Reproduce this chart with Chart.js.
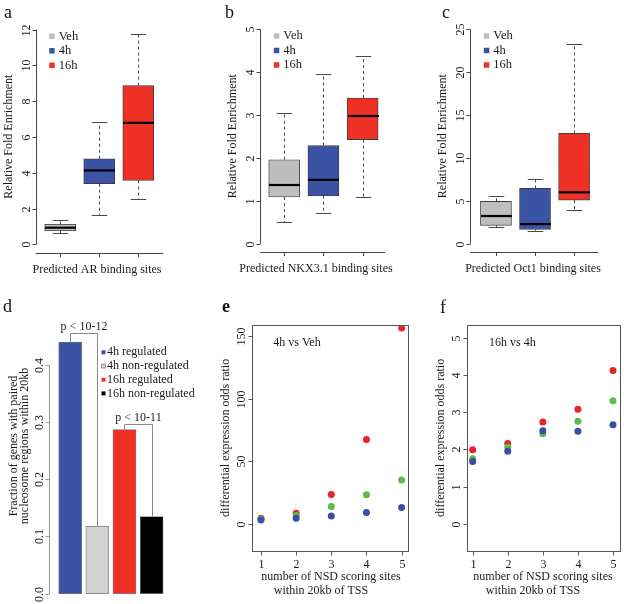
<!DOCTYPE html>
<html>
<head>
<meta charset="utf-8">
<script src="https://cdn.jsdelivr.net/npm/chart.js@4.4.1/dist/chart.umd.min.js"></script>
<style>
html,body{margin:0;padding:0;background:#fff;}
#wrap{position:relative;width:624px;height:604px;overflow:hidden;background:#fff;}
#wrap canvas{position:absolute;left:0;top:0;}
.pl{position:absolute;font-family:"Liberation Serif",serif;font-size:18px;line-height:18px;color:#111;}
</style>
</head>
<body>
<div id="wrap">
<canvas id="cA" width="624" height="604"></canvas>
<canvas id="cB" width="624" height="604"></canvas>
<canvas id="cC" width="624" height="604"></canvas>
<canvas id="cD" width="624" height="604"></canvas>
<canvas id="cE" width="624" height="604"></canvas>
<canvas id="cF" width="624" height="604"></canvas>
<div class="pl" style="left:4px;top:3px">a</div>
<div class="pl" style="left:225px;top:3px">b</div>
<div class="pl" style="left:442px;top:3px">c</div>
<div class="pl" style="left:3px;top:297px">d</div>
<div class="pl" style="left:222px;top:297px;font-weight:bold">e</div>
<div class="pl" style="left:440px;top:298px">f</div>
</div>
<script>
const W = 624, H = 604;
const SERIF = '"Liberation Serif", "Times New Roman", serif';
const INK = '#1a1a1a';

// ---------- panels a-c : box plots ----------
const boxGroups = ['Veh', '4h', '16h'];
const boxColors = ['#BEBEBE', '#3A53A4', '#EE3124'];

const arMin = [0.61, 1.62, 2.51];
const arQ1  = [0.76, 3.39, 3.57];
const arMed = [0.93, 4.13, 6.79];
const arQ3  = [1.12, 4.78, 8.87];
const arMax = [1.38, 6.81, 11.74];
const arTicks = [0, 2, 4, 6, 8, 10, 12];

const nkMin = [0.50, 0.71, 1.10];
const nkQ1  = [1.09, 1.12, 2.43];
const nkMed = [1.37, 1.49, 2.98];
const nkQ3  = [1.96, 2.29, 3.40];
const nkMax = [3.04, 3.97, 4.38];
const nkTicks = [0, 1, 2, 3, 4, 5];

const ocMin = [1.90, 1.52, 3.97];
const ocQ1  = [2.14, 1.67, 5.09];
const ocMed = [3.23, 2.29, 5.99];
const ocQ3  = [4.94, 6.45, 12.87];
const ocMax = [5.60, 7.58, 23.29];
const ocTicks = [0, 5, 10, 15, 20, 25];

// ---------- panel d : bars ----------
const nucCategories = ['4h regulated', '4h non-regulated', '16h regulated', '16h non-regulated'];
const nucFraction = [0.44, 0.118, 0.287, 0.135];
const nucColors = ['#3A53A4', '#D2D2D2', '#EE3124', '#000000'];
const nucPairs = [[0, 1], [2, 3]];
const nucPLabels = ['p < 10-12', 'p < 10-11'];
const nucTicks = [0.0, 0.1, 0.2, 0.3, 0.4];
const nucTickLabels = ['0.0', '0.1', '0.2', '0.3', '0.4'];

// ---------- panels e-f : scatter ----------
const nsdSites = [1, 2, 3, 4, 5];
const e4hRed   = [4.6, 8.6, 23.6, 67.6, 156.7];
const e4hGreen = [4.0, 6.7, 14.0, 23.3, 35.2];
const e4hBlue  = [3.2, 4.6, 6.4, 9.1, 13.2];
const f16Red   = [1.99, 2.16, 2.74, 3.08, 4.12];
const f16Green = [1.75, 2.06, 2.42, 2.76, 3.31];
const f16Blue  = [1.68, 1.95, 2.50, 2.49, 2.66];
const eTicks = [0, 50, 100, 150];
const fTicks = [0, 1, 2, 3, 4, 5];
const ptRed = '#E8232A', ptGreen = '#5DBA4C', ptBlue = '#3A4FA2';

// ---------- helpers ----------
function line(ctx, x1, y1, x2, y2) { ctx.beginPath(); ctx.moveTo(x1, y1); ctx.lineTo(x2, y2); ctx.stroke(); }
function px(v) { return Math.round(v) + 0.5; }
function vtext(ctx, s, x, y, size) {
  ctx.save(); ctx.translate(x, y); ctx.rotate(-Math.PI / 2);
  ctx.font = size + 'px ' + SERIF; ctx.fillStyle = INK;
  ctx.textAlign = 'center'; ctx.textBaseline = 'middle';
  ctx.fillText(s, 0, 0); ctx.restore();
}
function htext(ctx, s, x, y, size, align) {
  ctx.save(); ctx.font = size + 'px ' + SERIF; ctx.fillStyle = INK;
  ctx.textAlign = align || 'center'; ctx.textBaseline = 'middle';
  ctx.fillText(s, x, y); ctx.restore();
}
function leftAxis(chart, ticks, labels, color, labOff) {
  const ctx = chart.ctx, ys = chart.scales.y, x = px(chart.chartArea.left);
  ctx.save(); ctx.strokeStyle = color; ctx.lineWidth = 1;
  line(ctx, x, ys.getPixelForValue(ticks[0]), x, ys.getPixelForValue(ticks[ticks.length - 1]));
  ticks.forEach((t, i) => {
    const y = px(ys.getPixelForValue(t));
    line(ctx, x - 4, y, x, y);
    vtext(ctx, labels[i], x - labOff, y, 12);
  });
  ctx.restore();
}
function baseOptions(area, xr, yr) {
  return {
    responsive: false, maintainAspectRatio: false, animation: false, events: [],
    layout: { padding: { left: area[0], top: area[1], right: W - area[2], bottom: H - area[3] } },
    plugins: { legend: { display: false }, tooltip: { enabled: false }, title: { display: false } },
    scales: {
      x: { type: 'linear', display: false, offset: false, min: xr[0], max: xr[1] },
      y: { type: 'linear', display: false, min: yr[0], max: yr[1] }
    }
  };
}

// ---------- box plot panels ----------
const BOXW = 31;
function boxChart(id, st, ticks, area, xr, yr, xTitle, xTitleX) {
  new Chart(document.getElementById(id), {
    type: 'bar',
    data: { datasets: [{
      label: xTitle,
      data: boxGroups.map((g, i) => ({ x: i + 1, y: [st.q1[i], st.q3[i]] })),
      backgroundColor: boxColors, borderColor: '#3c3c3c', borderWidth: 0.9,
      borderSkipped: false, barThickness: BOXW
    }] },
    options: baseOptions(area, xr, yr),
    plugins: [{
      id: 'rbox',
      afterDatasetsDraw(chart) {
        const ctx = chart.ctx, xs = chart.scales.x, ys = chart.scales.y;
        ctx.save();
        boxGroups.forEach((g, i) => {
          const x = px(xs.getPixelForValue(i + 1));
          const pMin = ys.getPixelForValue(st.min[i]), pMax = ys.getPixelForValue(st.max[i]);
          const pQ1 = ys.getPixelForValue(st.q1[i]), pQ3 = ys.getPixelForValue(st.q3[i]);
          const pMed = ys.getPixelForValue(st.med[i]);
          ctx.strokeStyle = '#333'; ctx.lineWidth = 0.9;
          ctx.setLineDash([3, 3]);
          line(ctx, x, pQ3, x, pMax);
          line(ctx, x, pQ1, x, pMin);
          ctx.setLineDash([]);
          line(ctx, x - BOXW / 4, px(pMax), x + BOXW / 4, px(pMax));
          line(ctx, x - BOXW / 4, px(pMin), x + BOXW / 4, px(pMin));
          ctx.strokeStyle = '#000'; ctx.lineWidth = 2.2;
          line(ctx, x - BOXW / 2, pMed, x + BOXW / 2, pMed);
        });
        ctx.restore();
      },
      afterDraw(chart) {
        const ctx = chart.ctx, a = chart.chartArea, xs = chart.scales.x;
        leftAxis(chart, ticks, ticks.map(String), '#444', 10);
        ctx.save(); ctx.strokeStyle = '#444'; ctx.lineWidth = 1;
        const yb = px(a.bottom);
        line(ctx, a.left, yb, a.right, yb);
        boxGroups.forEach((g, i) => { const x = px(xs.getPixelForValue(i + 1)); line(ctx, x, yb, x, yb + 3.5); });
        ctx.restore();
        // legend
        boxGroups.forEach((g, i) => {
          const y = a.top + 16 + i * 14.5;
          ctx.fillStyle = boxColors[i];
          ctx.fillRect(a.left + 13.5, y - 2.75, 5.5, 5.5);
          htext(ctx, g, a.left + 23, y, 12.5, 'left');
        });
        vtext(ctx, 'Relative Fold Enrichment', a.left - 27, (a.top + a.bottom) / 2, 12);
        htext(ctx, xTitle, xTitleX, a.bottom + 17, 12);
      }
    }]
  });
}

boxChart('cA', { min: arMin, q1: arQ1, med: arMed, q3: arQ3, max: arMax }, arTicks,
  [35.7, 20.3, 163.3, 253], [0.373, 3.64], [-0.485, 12.52], 'Predicted AR binding sites', 97);
boxChart('cB', { min: nkMin, q1: nkQ1, med: nkMed, q3: nkQ3, max: nkMax }, nkTicks,
  [260.3, 20, 385, 252.3], [0.39, 3.57], [-0.2, 5.22], 'Predicted NKX3.1 binding sites', 316);
boxChart('cC', { min: ocMin, q1: ocQ1, med: ocMed, q3: ocQ3, max: ocMax }, ocTicks,
  [470.3, 20, 598.3, 252.3], [0.343, 3.62], [-1.0, 26.08], 'Predicted Oct1 binding sites', 533);

// ---------- panel d ----------
new Chart(document.getElementById('cD'), {
  type: 'bar',
  data: { datasets: [{
    label: 'Fraction',
    data: nucFraction.map((v, i) => ({ x: i + 1, y: v })),
    backgroundColor: nucColors, borderColor: '#777', borderWidth: 0.8,
    borderSkipped: false, barThickness: 23
  }] },
  options: baseOptions([49, 325, 175, 603.7], [0.22, 4.86], [-0.0176, 0.47]),
  plugins: [{
    id: 'rbar',
    afterDraw(chart) {
      const ctx = chart.ctx, a = chart.chartArea, xs = chart.scales.x, ys = chart.scales.y;
      leftAxis(chart, nucTicks, nucTickLabels, '#9a9a9a', 10);
      // significance brackets
      const gaps = [9, 5.5];
      ctx.save(); ctx.strokeStyle = '#8a8a8a'; ctx.lineWidth = 1;
      nucPairs.forEach((pr, k) => {
        const x1 = px(xs.getPixelForValue(pr[0] + 1)), x2 = px(xs.getPixelForValue(pr[1] + 1));
        const y1 = ys.getPixelForValue(nucFraction[pr[0]]), y2 = ys.getPixelForValue(nucFraction[pr[1]]);
        const top = px(Math.min(y1, y2) - gaps[k]);
        ctx.beginPath(); ctx.moveTo(x1, y1); ctx.lineTo(x1, top); ctx.lineTo(x2, top); ctx.lineTo(x2, y2); ctx.stroke();
        htext(ctx, nucPLabels[k], (x1 + x2) / 2, top - 7, 12);
      });
      ctx.restore();
      // legend
      nucCategories.forEach((c, i) => {
        const y = 352.3 + i * 13.7;
        ctx.save();
        ctx.fillStyle = nucColors[i]; ctx.fillRect(101.5, y - 2, 4, 4);
        if (i === 1) { ctx.strokeStyle = '#777'; ctx.lineWidth = 0.7; ctx.strokeRect(101.5, y - 2, 4, 4); }
        ctx.restore();
        htext(ctx, c, 107, y, 12, 'left');
      });
      vtext(ctx, 'Fraction of genes with paired', 13.5, 446, 12);
      vtext(ctx, 'nucleosome regions within 20kb', 24.5, 446, 12);
    }
  }]
});

// ---------- panels e-f ----------
function scatterChart(id, red, green, blue, ticks, area, xr, yr, note, t1x, t2x) {
  const ds = (lab, arr, col) => ({
    label: lab, data: nsdSites.map((s, i) => ({ x: s, y: arr[i] })),
    backgroundColor: col, pointBackgroundColor: col, pointRadius: 3.5,
    borderWidth: 0, pointBorderWidth: 0
  });
  new Chart(document.getElementById(id), {
    type: 'scatter',
    data: { datasets: [ds('blue', blue, ptBlue), ds('green', green, ptGreen), ds('red', red, ptRed)] },
    options: baseOptions(area, xr, yr),
    plugins: [{
      id: 'rframe',
      afterDraw(chart) {
        const ctx = chart.ctx, a = chart.chartArea, xs = chart.scales.x, ys = chart.scales.y;
        ctx.save(); ctx.strokeStyle = '#555'; ctx.lineWidth = 1;
        const L = px(a.left), R = px(a.right), T = px(a.top), B = px(a.bottom);
        ctx.strokeRect(L, T, R - L, B - T);
        ticks.forEach(t => {
          const y = px(ys.getPixelForValue(t));
          line(ctx, L - 4, y, L, y);
          vtext(ctx, String(t), L - 11, y, 12);
        });
        nsdSites.forEach(s => {
          const x = px(xs.getPixelForValue(s));
          line(ctx, x, B, x, B + 4);
          htext(ctx, String(s), x, B + 13, 12);
        });
        ctx.restore();
        htext(ctx, note, a.left + 45, a.top + 18, 12);
        vtext(ctx, 'differential expression odds ratio', a.left - 26, (a.top + a.bottom) / 2, 12);
        htext(ctx, 'number of NSD scoring sites', t1x, a.bottom + 26.5, 12);
        htext(ctx, 'within 20kb of TSS', t2x, a.bottom + 40.5, 12);
      }
    }]
  });
}
scatterChart('cE', e4hRed, e4hGreen, e4hBlue, eTicks, [252, 325, 408.3, 550.7], [0.744, 5.19], [-21.4, 159.2], '4h vs Veh', 331, 321);
scatterChart('cF', f16Red, f16Green, f16Blue, fTicks, [467.3, 325, 621, 550.7], [0.847, 5.2], [-0.717, 5.34], '16h vs 4h', 543, 533);
</script>
</body>
</html>
